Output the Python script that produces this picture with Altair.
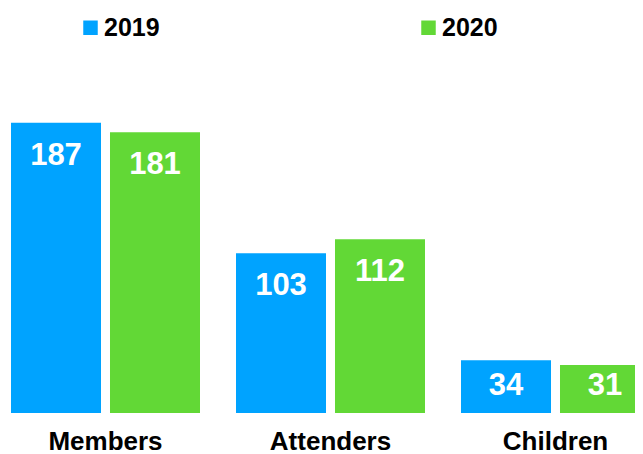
import altair as alt
import pandas as pd

categories = ["Members", "Attenders", "Children"]
years = ["2019", "2020"]
values_2019 = [187, 103, 34]
values_2020 = [181, 112, 31]
colors = ["#00A3FF", "#62D836"]

rows = []
for i, c in enumerate(categories):
    rows.append({"category": c, "year": years[0], "value": values_2019[i]})
    rows.append({"category": c, "year": years[1], "value": values_2020[i]})
df = pd.DataFrame(rows)

FONT = "Liberation Sans"

x = alt.X("category:N", sort=categories, title=None,
          scale=alt.Scale(range=[3, 642], paddingInner=0.16, paddingOuter=0),
          axis=alt.Axis(labelAngle=0, labelFontSize=26, labelFontWeight="bold",
                        labelColor="black", labelFont=FONT, domain=False, ticks=False,
                        labelPadding=15))
xo = alt.XOffset("year:N", sort=years,
                 scale=alt.Scale(paddingInner=0.0909, paddingOuter=0))
yscale = alt.Scale(domain=[0, 261], nice=False)
y = alt.Y("value:Q", scale=yscale, axis=None)

bars = alt.Chart(df).mark_bar().encode(
    x=x, xOffset=xo, y=y,
    color=alt.Color("year:N", sort=years,
                    scale=alt.Scale(domain=years, range=colors),
                    legend=alt.Legend(orient="none", legendX=70, legendY=7,
                                      direction="horizontal", title=None,
                                      symbolType="square", symbolSize=210,
                                      symbolStrokeWidth=0, symbolOpacity=1,
                                      labelFontSize=25, labelFontWeight="bold",
                                      labelFont=FONT, labelColor="black",
                                      labelOffset=1, columnPadding=256,
                                      padding=0)),
)

labels = alt.Chart(df).transform_calculate(
    label_pos="max(datum.value - 27.2, 11.6)"
).mark_text(
    color="white", fontSize=31, fontWeight="bold", font=FONT,
    baseline="alphabetic"
).encode(x=x, xOffset=xo, y=alt.Y("label_pos:Q", scale=yscale, axis=None),
         text="value:Q")

chart = (bars + labels).properties(
    width=627, height=405,
    autosize=alt.AutoSizeParams(type="none"),
    padding={"left": 0, "top": 0, "right": 0, "bottom": 40},
).configure(background="white").configure_view(stroke=None, strokeWidth=0)

chart.save("out.html", embed_options={"renderer": "svg", "actions": False})
